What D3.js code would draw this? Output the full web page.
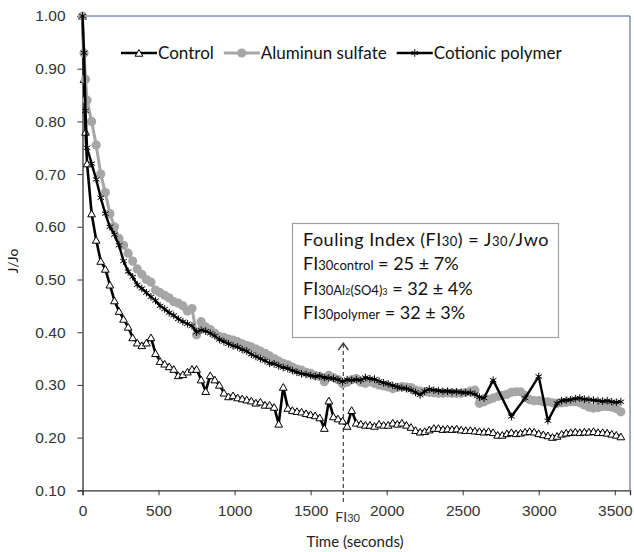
<!DOCTYPE html>
<html>
<head>
<meta charset="utf-8">
<script src="https://cdn.jsdelivr.net/npm/d3@7"></script>
<style>
  html, body { margin: 0; padding: 0; background: #fff; }
  svg { display: block; font-family: Lato, "Open Sans", sans-serif; }
  .tick text { fill: #333; font-size: 15.5px; }
  .ann { font-size: 18px; fill: #111; }
</style>
</head>
<body>
<svg id="chart" width="634" height="552"></svg>
<script>
// Flux decline J/Jo over time — control vs. coagulant pretreatments

const TIME = [
  0, 10, 20, 30, 60, 90, 120, 150, 180, 210,
  240, 270, 300, 330, 360, 390, 420, 450, 480, 510,
  540, 570, 600, 630, 660, 690, 720, 750, 780, 810,
  840, 870, 900, 930, 960, 990, 1020, 1050, 1080, 1110,
  1140, 1170, 1200, 1230, 1260, 1290, 1320, 1350, 1380, 1410,
  1440, 1470, 1500, 1530, 1560, 1590, 1620, 1650, 1680, 1710,
  1740, 1770, 1800, 1830, 1860, 1890, 1920, 1950, 1980, 2010,
  2040, 2070, 2100, 2130, 2160, 2190, 2220, 2250, 2280, 2310,
  2340, 2370, 2400, 2430, 2460, 2490, 2520, 2550, 2580, 2610,
  2640, 2670, 2700, 2730, 2760, 2790, 2820, 2850, 2880, 2910,
  2940, 2970, 3000, 3030, 3060, 3090, 3120, 3150, 3180, 3210,
  3240, 3270, 3300, 3330, 3360, 3390, 3420, 3450, 3480, 3510,
  3540
];

const CONTROL = [
  1.00, 0.88, 0.78, 0.72, 0.625, 0.575, 0.535, 0.52, 0.49, 0.46,
  0.44, 0.425, 0.41, 0.39, 0.38, 0.375, 0.38, 0.39, 0.36, 0.345,
  0.34, 0.335, 0.33, 0.318, 0.32, 0.325, 0.33, 0.33, 0.31, 0.288,
  0.318, 0.31, 0.30, 0.285, 0.278, 0.28, 0.276, 0.274, 0.272, 0.27,
  0.266, 0.268, 0.262, 0.262, 0.258, 0.226, 0.296, 0.256, 0.252, 0.25,
  0.249, 0.246, 0.244, 0.242, 0.238, 0.218, 0.27, 0.24, 0.236, 0.232,
  0.222, 0.252, 0.228, 0.226, 0.224, 0.224, 0.222, 0.226, 0.224, 0.224,
  0.228, 0.226, 0.228, 0.224, 0.22, 0.214, 0.211, 0.212, 0.215, 0.218,
  0.218, 0.216, 0.217, 0.216, 0.217, 0.215, 0.214, 0.214, 0.213, 0.212,
  0.211, 0.212, 0.21, 0.205, 0.205, 0.208, 0.21, 0.208, 0.209, 0.211,
  0.212, 0.211, 0.208, 0.206, 0.204, 0.201, 0.203, 0.207, 0.209, 0.21,
  0.211, 0.21, 0.211, 0.211, 0.212, 0.21, 0.21, 0.209, 0.207, 0.205,
  0.202
];

const ALUM = [
  1.00, 0.93, 0.88, 0.84, 0.80, 0.755, 0.70, 0.665, 0.625, 0.60,
  0.578, 0.565, 0.55, 0.535, 0.52, 0.51, 0.50, 0.495, 0.48, 0.475,
  0.47, 0.465, 0.458, 0.455, 0.45, 0.44, 0.445, 0.395, 0.42, 0.41,
  0.405, 0.398, 0.392, 0.39, 0.387, 0.385, 0.382, 0.378, 0.375, 0.372,
  0.368, 0.364, 0.36, 0.355, 0.35, 0.345, 0.341, 0.338, 0.334, 0.33,
  0.328, 0.324, 0.322, 0.318, 0.316, 0.306, 0.318, 0.314, 0.31, 0.302,
  0.305, 0.31, 0.312, 0.305, 0.303, 0.306, 0.303, 0.30, 0.298, 0.296,
  0.293, 0.295, 0.297, 0.296, 0.295, 0.29, 0.288, 0.287, 0.286, 0.285,
  0.284, 0.284, 0.285, 0.284, 0.284, 0.284, 0.286, 0.288, 0.29, 0.265,
  0.268, 0.272, 0.275, 0.278, 0.28, 0.282, 0.286, 0.287, 0.287, 0.28,
  0.272, 0.27, 0.27, 0.268, 0.268, 0.266, 0.265, 0.266, 0.267, 0.268,
  0.268, 0.266, 0.262, 0.258, 0.256, 0.257, 0.259, 0.259, 0.258, 0.255,
  0.249
];

// null = no reading logged at that time (line runs straight across)
const POLYMER = [
  1.00, 0.93, 0.82, 0.75, 0.72, 0.69, 0.655, 0.625, 0.60, 0.585,
  0.565, 0.535, 0.515, 0.505, 0.49, 0.483, 0.475, 0.467, 0.46, 0.45,
  0.444, 0.437, 0.432, 0.425, 0.42, 0.416, 0.412, 0.40, 0.404, 0.402,
  0.398, 0.393, 0.386, 0.382, 0.378, 0.374, 0.372, 0.367, 0.364, 0.358,
  0.354, 0.35, 0.346, 0.341, 0.34, 0.336, 0.333, 0.331, 0.327, 0.324,
  0.321, 0.32, 0.318, 0.316, 0.317, 0.314, 0.313, 0.312, 0.31, 0.306,
  0.31, 0.309, 0.31, 0.309, 0.314, 0.312, 0.311, 0.307, 0.304, 0.302,
  0.299, 0.296, 0.294, 0.293, 0.29, 0.286, 0.281, 0.288, 0.292, 0.29,
  0.289, 0.288, 0.288, 0.287, 0.287, 0.286, 0.285, 0.285, 0.282, 0.277,
  0.275, null, 0.309, null, null, null, 0.24, null, null, 0.275,
  null, null, 0.316, null, 0.232, null, 0.265, 0.27, 0.271, 0.272,
  0.274, 0.275, 0.273, 0.272, 0.271, 0.27, 0.269, 0.27, 0.268, 0.267,
  0.268
];

const X_TICKS = [0, 500, 1000, 1500, 2000, 2500, 3000, 3500];
const Y_TICKS = [0.10, 0.20, 0.30, 0.40, 0.50, 0.60, 0.70, 0.80, 0.90, 1.00];
const FI30_TIME = 1715;

const svg = d3.select("#chart");
const x = d3.scaleLinear().domain([0, 3600]).range([82.5, 630]);
const y = d3.scaleLinear().domain([0.1, 1.0]).range([490.3, 16]);

// plot frame (Excel-ish blue top/right)
svg.append("path")
  .attr("d", `M${x(0)},${y(1)}H${x(3600)}V${y(0.1)}`)
  .attr("fill", "none").attr("stroke", "#3c5a96").attr("stroke-width", 1);

// axes
const xAxis = svg.append("g").attr("transform", `translate(0,${y(0.1)})`)
  .call(d3.axisBottom(x).tickValues(X_TICKS).tickFormat(d3.format("d")).tickSize(5).tickPadding(10));
const yAxis = svg.append("g").attr("transform", `translate(${x(0)},0)`)
  .call(d3.axisLeft(y).tickValues(Y_TICKS).tickFormat(d3.format(".2f")).tickSize(5).tickPadding(12));
[xAxis, yAxis].forEach(a => {
  a.select(".domain").attr("stroke", "#333").attr("stroke-width", 1.3);
  a.selectAll(".tick line").attr("stroke", "#333");
});

svg.append("text").attr("x", 355).attr("y", 547).attr("text-anchor", "middle")
  .attr("font-size", 15).attr("fill", "#222").text("Time (seconds)");
svg.append("text").attr("transform", "translate(18,261) rotate(-90)")
  .attr("text-anchor", "middle").attr("font-size", 14).attr("fill", "#222").text("J/Jo");

// FI30 marker: dashed arrow up from the axis
const fx = x(FI30_TIME);
svg.append("line").attr("x1", fx).attr("x2", fx).attr("y1", 344).attr("y2", 504)
  .attr("stroke", "#444").attr("stroke-width", 1.2).attr("stroke-dasharray", "4,3");
svg.append("path").attr("d", `M${fx - 5},${350}L${fx},${343}L${fx + 5},${350}`)
  .attr("fill", "none").attr("stroke", "#333").attr("stroke-width", 1.3);
const fiLbl = svg.append("text").attr("x", fx - 8).attr("y", 522).attr("font-size", 14).attr("fill", "#333");
fiLbl.append("tspan").text("FI");
fiLbl.append("tspan").attr("font-size", 11).text("30");

// series
const rows = TIME.map((t, i) => ({ t, c: CONTROL[i], a: ALUM[i], p: POLYMER[i] }));
function pts(key) { return rows.filter(r => r[key] != null).map(r => [r.t, r[key]]); }
const line = d3.line().x(d => x(d[0])).y(d => y(d[1]));
const sym = d3.symbol();

const SERIES = [
  { key: "c", label: "Control", stroke: "#000", width: 2.6 },
  { key: "a", label: "Aluminun sulfate", stroke: "#a6a6a6", width: 3 },
  { key: "p", label: "Cotionic polymer", stroke: "#000", width: 2.4 }
];

function drawMarker(g, key, cx, cy) {
  if (key === "c") {
    g.append("path").attr("transform", `translate(${cx},${cy + 1})`)
      .attr("d", sym.type(d3.symbolTriangle).size(26)())
      .attr("fill", "#fff").attr("stroke", "#000").attr("stroke-width", 1);
  } else if (key === "a") {
    g.append("circle").attr("cx", cx).attr("cy", cy).attr("r", 4.6).attr("fill", "#a6a6a6");
  } else {
    g.append("path").attr("transform", `translate(${cx},${cy})`)
      .attr("d", sym.type(d3.symbolAsterisk).size(40)())
      .attr("fill", "none").attr("stroke", "#000").attr("stroke-width", 1);
  }
}

SERIES.forEach(s => {
  const data = pts(s.key);
  const g = svg.append("g");
  if (s.key === "a") data.forEach(d => drawMarker(g, s.key, x(d[0]), y(d[1])));
  g.append("path").datum(data).attr("d", line)
    .attr("fill", "none").attr("stroke", s.stroke).attr("stroke-width", s.width)
    .attr("stroke-linejoin", "round");
  if (s.key !== "a") data.forEach(d => drawMarker(g, s.key, x(d[0]), y(d[1])));
});

// legend (entries flow left to right)
let lx = 121;
SERIES.forEach(s => {
  const g = svg.append("g");
  const x0 = lx, x1 = x0 + 36, ly = 53;
  g.append("line").attr("x1", x0).attr("x2", x1).attr("y1", ly).attr("y2", ly)
    .attr("stroke", s.stroke).attr("stroke-width", s.width);
  drawMarker(g, s.key, (x0 + x1) / 2, ly);
  const t = g.append("text").attr("x", x1 + 1).attr("y", ly + 6).attr("font-size", 17).attr("fill", "#111").text(s.label);
  lx = x1 + 1 + t.node().getComputedTextLength() + 10;
});

// annotation box
svg.append("rect").attr("x", 292.5).attr("y", 223.5).attr("width", 266).attr("height", 114)
  .attr("fill", "#fff").attr("stroke", "#a0a0a0").attr("stroke-width", 1.2);
const ANN = [
  [["Fouling Index (FI", 18], ["30", 13], [") = J", 18], ["30", 13], ["/Jwo", 18]],
  [["FI", 18], ["30control", 13], [" = 25 ± 7%", 18]],
  [["FI", 18], ["30Al", 13], ["2", 9], ["(SO4)", 13], ["3", 9], [" = 32 ± 4%", 18]],
  [["FI", 18], ["30polymer", 13], [" = 32 ± 3%", 18]]
];
ANN.forEach((parts, i) => {
  const t = svg.append("text").attr("class", "ann").attr("x", 303).attr("y", 246 + i * 24.3);
  if (i === 0) t.attr("letter-spacing", 0.5);
  parts.forEach(([txt, fs]) => t.append("tspan").attr("font-size", fs).text(txt));
});
</script>
</body>
</html>
